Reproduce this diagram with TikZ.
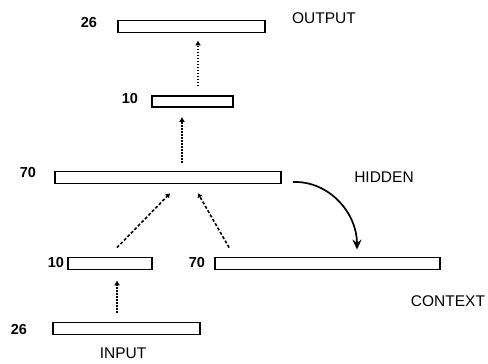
\documentclass[tikz,border=0pt]{standalone}
\usepackage{fontspec}
\setmainfont{Liberation Sans}
\usetikzlibrary{arrows.meta}
\begin{document}
\begin{tikzpicture}[x=1pt,y=-1pt,
  layer/.style={draw, line width=1.8pt, rectangle, inner sep=0pt, minimum height=12pt},
  num/.style={font=\fontsize{14.5}{16}\selectfont\bfseries, inner sep=0pt},
  lbl/.style={font=\fontsize{15.5}{17}\selectfont, inner sep=0pt},
  dotarrow/.style={line width=1.6pt, dash pattern=on 1.5pt off 1.5pt, -{Latex[length=5pt,width=6pt]}},
  dasharrow/.style={line width=1.6pt, dash pattern=on 3pt off 2pt, -{Latex[length=4pt,width=6pt]}},
  recur/.style={line width=1.7pt, -{Stealth[length=10pt,width=9pt]}}
]
\useasboundingbox (0,0) rectangle (488,364);
% layers
\node[layer, minimum width=147pt] (out) at (191.5,26.5) {};
\node[layer, minimum width=81pt, minimum height=11pt] (hs) at (192.5,101.5) {};
\node[layer, minimum width=226pt] (hid) at (168,177.5) {};
\node[layer, minimum width=84pt] (in10) at (110,263.5) {};
\node[layer, minimum width=225pt] (ctx) at (327.5,263.5) {};
\node[layer, minimum width=147pt] (inp) at (126.5,328.5) {};
% labels
\node[num] (n1) at (89,23) {26};
\node[lbl] (l1) at (324,18) {OUTPUT};
\node[num] (n2) at (130,99) {10};
\node[num] (n3) at (28,173) {70};
\node[lbl] (l2) at (384,177) {HIDDEN};
\node[num] (n4) at (56,263) {10};
\node[num] (n5) at (197,263) {70};
\node[lbl] (l3) at (448,301) {CONTEXT};
\node[num] (n6) at (19,330) {26};
\node[lbl] (l4) at (123,353) {INPUT};
% connections
\draw[dotarrow] ([xshift=5.5pt,yshift=9pt]hs.north) -- ([xshift=6.5pt,yshift=-7pt]out.south);
\draw[dotarrow] ([xshift=14pt,yshift=8pt]hid.north) -- ([xshift=-10.5pt,yshift=-9pt]hs.south);
\draw[dotarrow] ([xshift=-9.5pt,yshift=9pt]inp.north) -- ([xshift=7pt,yshift=-10pt]in10.south);
\draw[dasharrow] ([xshift=7pt,yshift=9pt]in10.north) -- ([xshift=2pt,yshift=-9pt]hid.south);
\draw[dasharrow] ([xshift=15pt,yshift=9pt]ctx.north west) -- ([xshift=30pt,yshift=-9pt]hid.south);
\draw[recur] ([xshift=11pt,yshift=-4.5pt]hid.east) to[out=2,in=90] ([xshift=29.5pt,yshift=7pt]ctx.north);
\end{tikzpicture}
\end{document}
